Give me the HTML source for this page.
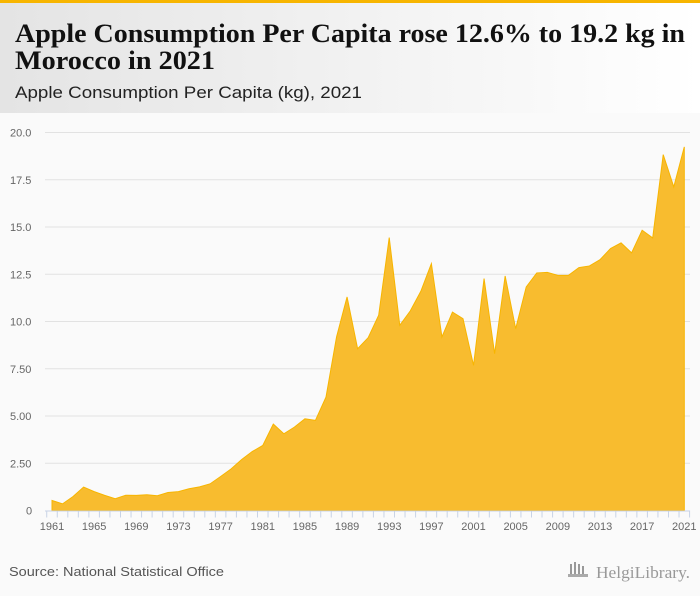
<!DOCTYPE html>
<html><head><meta charset="utf-8"><style>
html,body{margin:0;padding:0;background:#fafafa;}
svg{display:block;font-family:"Liberation Sans",sans-serif;}
</style></head><body>
<svg width="700" height="596" viewBox="0 0 700 596">
<defs><linearGradient id="hg" x1="0" x2="1" y1="0" y2="0"><stop offset="0" stop-color="#e4e4e4"/><stop offset="1" stop-color="#ffffff"/></linearGradient></defs>
<rect x="0" y="0" width="700" height="596" fill="#fafafa"/>
<rect x="0" y="0" width="700" height="113" fill="url(#hg)"/>
<rect x="0" y="0" width="700" height="3" fill="#f7b500"/>
<text x="15" y="42" font-family="Liberation Serif,serif" font-weight="bold" font-size="26" fill="#111" textLength="670" lengthAdjust="spacingAndGlyphs">Apple Consumption Per Capita rose 12.6% to 19.2 kg in</text>
<text x="15" y="69" font-family="Liberation Serif,serif" font-weight="bold" font-size="26" fill="#111" textLength="200" lengthAdjust="spacingAndGlyphs">Morocco in 2021</text>
<text x="15" y="98" font-size="17" fill="#222" textLength="347" lengthAdjust="spacingAndGlyphs">Apple Consumption Per Capita (kg), 2021</text>
<g id="grid"></g>
<g id="area"></g>
<g id="axis"></g>
<text x="9" y="576" font-size="13" fill="#555" textLength="215" lengthAdjust="spacingAndGlyphs">Source: National Statistical Office</text>
<g>
<rect x="570" y="564" width="2" height="10" fill="#999"/><rect x="574" y="562" width="2" height="12" fill="#999"/><rect x="578" y="564" width="2" height="10" fill="#999"/><rect x="582" y="566" width="2" height="8" fill="#999"/>
<rect x="568" y="574" width="20" height="3" fill="#aaa"/>
<text x="596" y="578" font-family="Liberation Serif,serif" font-size="17" fill="#999" textLength="94" lengthAdjust="spacingAndGlyphs">HelgiLibrary.</text>
</g>
</svg>
<script>
const years=[];for(let y=1961;y<=2021;y++)years.push(y);
const values=[0.53,0.35,0.74,1.24,1.0,0.8,0.62,0.81,0.8,0.83,0.78,0.95,1.0,1.15,1.25,1.41,1.8,2.2,2.7,3.12,3.44,4.57,4.06,4.41,4.85,4.77,6.0,9.18,11.3,8.56,9.14,10.33,14.44,9.8,10.56,11.6,13.06,9.18,10.5,10.15,7.68,12.27,8.3,12.41,9.62,11.83,12.57,12.6,12.44,12.44,12.85,12.94,13.27,13.86,14.16,13.63,14.83,14.42,18.83,17.12,19.24];
const yTicks=[0,2.5,5,7.5,10,12.5,15,17.5,20];
const yTickLabels=["0","2.50","5.00","7.50","10.0","12.5","15.0","17.5","20.0"];
const NS="http://www.w3.org/2000/svg";
const X0=45,X1=690,Y0=510.5,Y1=132.5;
const xs=y=>52+(y-1961)*(684.3-52)/60;
const ys=v=>Y0-(v/20)*(Y0-Y1);
function mk(t,a,p){const e=document.createElementNS(NS,t);for(const k in a)e.setAttribute(k,a[k]);p.appendChild(e);return e;}
const grid=document.getElementById('grid'),area=document.getElementById('area'),axis=document.getElementById('axis');
yTicks.forEach((t,i)=>{
 if(t>0){const l=mk('line',{x1:X0,x2:X1,y1:ys(t),y2:ys(t),stroke:'#e2e2e2','stroke-width':1},grid);
 
 }
 const tx=mk('text',{x:t===0?26:10,y:ys(t)+4,'font-size':11,fill:'#666'},axis);
 tx.textContent=yTickLabels[i];
 
 
});
let d='M'+xs(years[0])+','+Y0;
years.forEach((y,i)=>{d+=' L'+xs(y)+','+ys(values[i]);});
d+=' L'+xs(years[years.length-1])+','+Y0+' Z';
const p=mk('path',{d:d,fill:'#f8bc2f',stroke:'#f7b500','stroke-width':1},area);


const ax=mk('line',{x1:X0,x2:X1,y1:Y0+0.5,y2:Y0+0.5,stroke:'#c8d3e6','stroke-width':1},axis);


for(let y=1960.5;y<=2021.5;y+=1){const tk=mk('line',{x1:xs(y),x2:xs(y),y1:Y0,y2:Y0+7,stroke:'#c8d3e6'},axis);
 
 }
years.forEach(y=>{if((y-1961)%4===0){const t=mk('text',{x:xs(y),y:530,'font-size':11,fill:'#666','text-anchor':'middle'},axis);
 t.textContent=y;
 
 }});
</script>
</body></html>
